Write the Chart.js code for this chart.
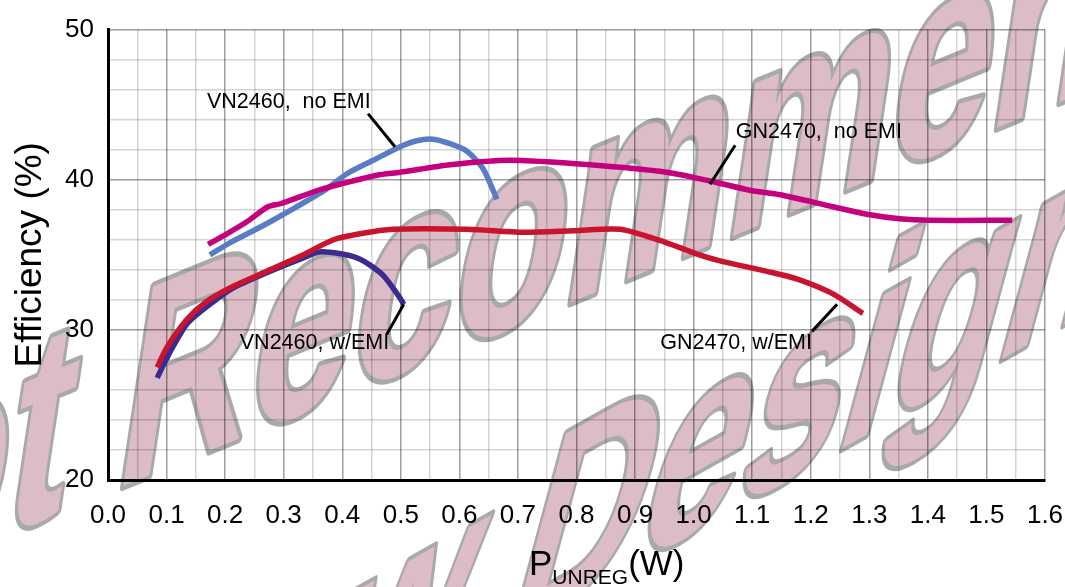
<!DOCTYPE html>
<html>
<head>
<meta charset="utf-8">
<script src="https://cdn.jsdelivr.net/npm/chart.js@4.4.1/dist/chart.umd.min.js"></script>
<style>
  html, body { margin: 0; padding: 0; background: #fff; }
  #wrap { width: 1065px; height: 587px; }
</style>
</head>
<body>
<div id="wrap"><canvas id="effChart" width="1065" height="587"></canvas></div>
<script>
/* Series: output power (W) vs efficiency (%) */
const gnNoEmiX = [0.171, 0.203, 0.237, 0.273, 0.294, 0.359, 0.396, 0.459, 0.499, 0.584, 0.686, 0.823, 0.954, 1.03, 1.096, 1.148, 1.238, 1.296, 1.352, 1.404, 1.544];
const gnNoEmiY = [35.7, 36.4, 37.2, 38.2, 38.4, 39.3, 39.7, 40.3, 40.5, 41.0, 41.3, 41.0, 40.5, 39.9, 39.3, 39.0, 38.2, 37.7, 37.4, 37.3, 37.3];

const vnNoEmiX = [0.174, 0.208, 0.248, 0.277, 0.34, 0.37, 0.408, 0.453, 0.499, 0.527, 0.555, 0.584, 0.613, 0.641, 0.664];
const vnNoEmiY = [35.0, 35.8, 36.6, 37.2, 38.6, 39.3, 40.4, 41.3, 42.2, 42.6, 42.7, 42.4, 41.9, 40.7, 38.7];

const gnEmiX = [0.084, 0.1, 0.135, 0.169, 0.214, 0.271, 0.328, 0.385, 0.43, 0.487, 0.613, 0.709, 0.795, 0.875, 0.954, 1.01, 1.045, 1.125, 1.176, 1.238, 1.289];
const gnEmiY = [27.5, 28.8, 30.7, 31.9, 32.9, 33.9, 34.9, 36.0, 36.4, 36.7, 36.7, 36.5, 36.6, 36.7, 35.8, 35.0, 34.6, 33.9, 33.4, 32.4, 31.1];

const vnEmiX = [0.084, 0.1, 0.135, 0.174, 0.214, 0.271, 0.328, 0.364, 0.425, 0.468, 0.499, 0.505];
const vnEmiY = [26.8, 28.1, 30.4, 31.7, 32.8, 33.8, 34.7, 35.2, 34.8, 33.7, 32.1, 31.7];

/* tick labels */
const xTickLabels = ['0.0','0.1','0.2','0.3','0.4','0.5','0.6','0.7','0.8','0.9','1.0','1.1','1.2','1.3','1.4','1.5','1.6'];
const yTickLabels = ['20','30','40','50'];

/* callouts: text anchor and leader line, in data units */
const callouts = [
  { text: 'VN2460,  no EMI', tx: 0.169, ty: 45.2, x1: 0.444, y1: 44.4, x2: 0.49, y2: 42.2 },
  { text: 'GN2470,  no EMI', tx: 1.072, ty: 43.2, x1: 1.071, y1: 42.3, x2: 1.028, y2: 39.7 },
  { text: 'VN2460, w/EMI',   tx: 0.225, ty: 29.1, x1: 0.476, y1: 29.7, x2: 0.505, y2: 31.7 },
  { text: 'GN2470, w/EMI',   tx: 0.943, ty: 29.1, x1: 1.202, y1: 29.9, x2: 1.245, y2: 31.7 }
];

function toPoints(xs, ys) {
    return xs.map(function(x, i) { return { x: x, y: ys[i] }; });
}

const FONT = '"Liberation Sans", Arial, sans-serif';

/* "Not Recommended for New Designs" stamp, drawn under everything */
const watermark = {
    id: 'watermark',
    beforeDraw(chart) {
        const ctx = chart.ctx;
        ctx.save();
        ctx.fillStyle = '#fff';
        ctx.fillRect(0, 0, chart.width, chart.height);
        ctx.font = 'bold 290px ' + FONT;
        ctx.lineJoin = 'round';
        const lines = [
            { text: 'Not Recommended', lead: 'Not ', x: 111, y: 491, sx: 0.63, slope: 0.41, lean: 0.15 },
            { text: 'for New Designs', lead: 'for New ', x: 500, y: 640, sx: 0.62, slope: 0.56, lean: 0.27 }
        ];
        lines.forEach(function(l) {
            ctx.setTransform(l.sx, -l.slope * l.sx, -l.lean, 1, l.x, l.y);
            const off = -ctx.measureText(l.lead).width;
            ctx.strokeStyle = '#a9a9a9';
            ctx.lineWidth = 10;
            ctx.strokeText(l.text, off, 0);
            ctx.fillStyle = '#dcbcc6';
            ctx.fillText(l.text, off, 0);
        });
        ctx.restore();
    }
};

/* Titles and callouts on top */
const overlay = {
    id: 'overlay',
    afterDraw(chart) {
        const ctx = chart.ctx;
        const xs = chart.scales.x, ys = chart.scales.y;
        ctx.save();
        ctx.fillStyle = '#000';
        ctx.textBaseline = 'middle';
        ctx.textAlign = 'left';
        ctx.font = '21.5px ' + FONT;
        callouts.forEach(function(c) {
            ctx.fillText(c.text, xs.getPixelForValue(c.tx), ys.getPixelForValue(c.ty));
            ctx.beginPath();
            ctx.moveTo(xs.getPixelForValue(c.x1), ys.getPixelForValue(c.y1));
            ctx.lineTo(xs.getPixelForValue(c.x2), ys.getPixelForValue(c.y2));
            ctx.lineWidth = 3;
            ctx.strokeStyle = '#000';
            ctx.stroke();
        });

        // y title
        ctx.save();
        ctx.translate(31, (chart.chartArea.top + chart.chartArea.bottom) / 2);
        ctx.rotate(-Math.PI / 2);
        ctx.textAlign = 'center';
        ctx.font = '37px ' + FONT;
        ctx.fillText('Efficiency (%)', 0, 0);
        ctx.restore();

        // x title with subscript
        ctx.textBaseline = 'alphabetic';
        let x = 529;
        ctx.font = '35px ' + FONT;
        ctx.fillText('P', x, 575);
        x += ctx.measureText('P').width;
        ctx.font = '21px ' + FONT;
        ctx.fillText('UNREG', x, 584);
        x += ctx.measureText('UNREG').width;
        ctx.font = '35px ' + FONT;
        ctx.fillText('(W)', x, 575);
        ctx.restore();
    }
};

const ctx = document.getElementById('effChart').getContext('2d');
const chart = new Chart(ctx, {
    type: 'line',
    data: {
        datasets: [{
            label: 'GN2470, no EMI',
            data: toPoints(gnNoEmiX, gnNoEmiY),
            borderColor: '#c4007e'
        }, {
            label: 'VN2460, no EMI',
            data: toPoints(vnNoEmiX, vnNoEmiY),
            borderColor: '#5a7cc4'
        }, {
            label: 'GN2470, w/EMI',
            data: toPoints(gnEmiX, gnEmiY),
            borderColor: '#c8142f'
        }, {
            label: 'VN2460, w/EMI',
            data: toPoints(vnEmiX, vnEmiY),
            borderColor: '#3d2a8f'
        }]
    },
    options: {
        responsive: false,
        animation: false,
        devicePixelRatio: 1,
        layout: { padding: { left: 0, right: 0, top: 27, bottom: 0 } },
        elements: {
            line: { borderWidth: 5.5, tension: 0.25, fill: false },
            point: { radius: 0 }
        },
        plugins: {
            legend: { display: false },
            tooltip: { enabled: false }
        },
        scales: {
            x: {
                type: 'linear',
                min: 0,
                max: 1.6,
                afterFit: function(s) {
                    s.height = 107;
                    s.paddingLeft = 0;
                    s.paddingRight = 20;
                },
                border: { display: true, color: '#000', width: 3 },
                grid: {
                    drawTicks: false,
                    lineWidth: 1.5,
                    color: function(c) {
                        return Math.round(c.tick.value * 100) % 10 === 0 ? 'rgba(0,0,0,0.38)' : 'rgba(0,0,0,0.17)';
                    }
                },
                ticks: {
                    stepSize: 0.05,
                    autoSkip: false,
                    maxRotation: 0,
                    padding: 20,
                    color: '#000',
                    font: { family: FONT, size: 26 },
                    callback: function(v) {
                        const n = Math.round(v * 100);
                        return n % 10 === 0 ? xTickLabels[n / 10] : '';
                    }
                }
            },
            y: {
                min: 20,
                max: 50,
                afterFit: function(s) { s.width = 108; },
                border: { display: true, color: '#000', width: 3 },
                grid: {
                    drawTicks: false,
                    lineWidth: 1.5,
                    color: function(c) {
                        return c.tick.value % 10 === 0 ? 'rgba(0,0,0,0.38)' : 'rgba(0,0,0,0.17)';
                    }
                },
                ticks: {
                    stepSize: 2,
                    autoSkip: false,
                    padding: 14,
                    color: '#000',
                    font: { family: FONT, size: 26 },
                    callback: function(v) {
                        return v % 10 === 0 ? yTickLabels[(v - 20) / 10] : '';
                    }
                }
            }
        }
    },
    plugins: [watermark, overlay]
});
</script>
</body>
</html>
